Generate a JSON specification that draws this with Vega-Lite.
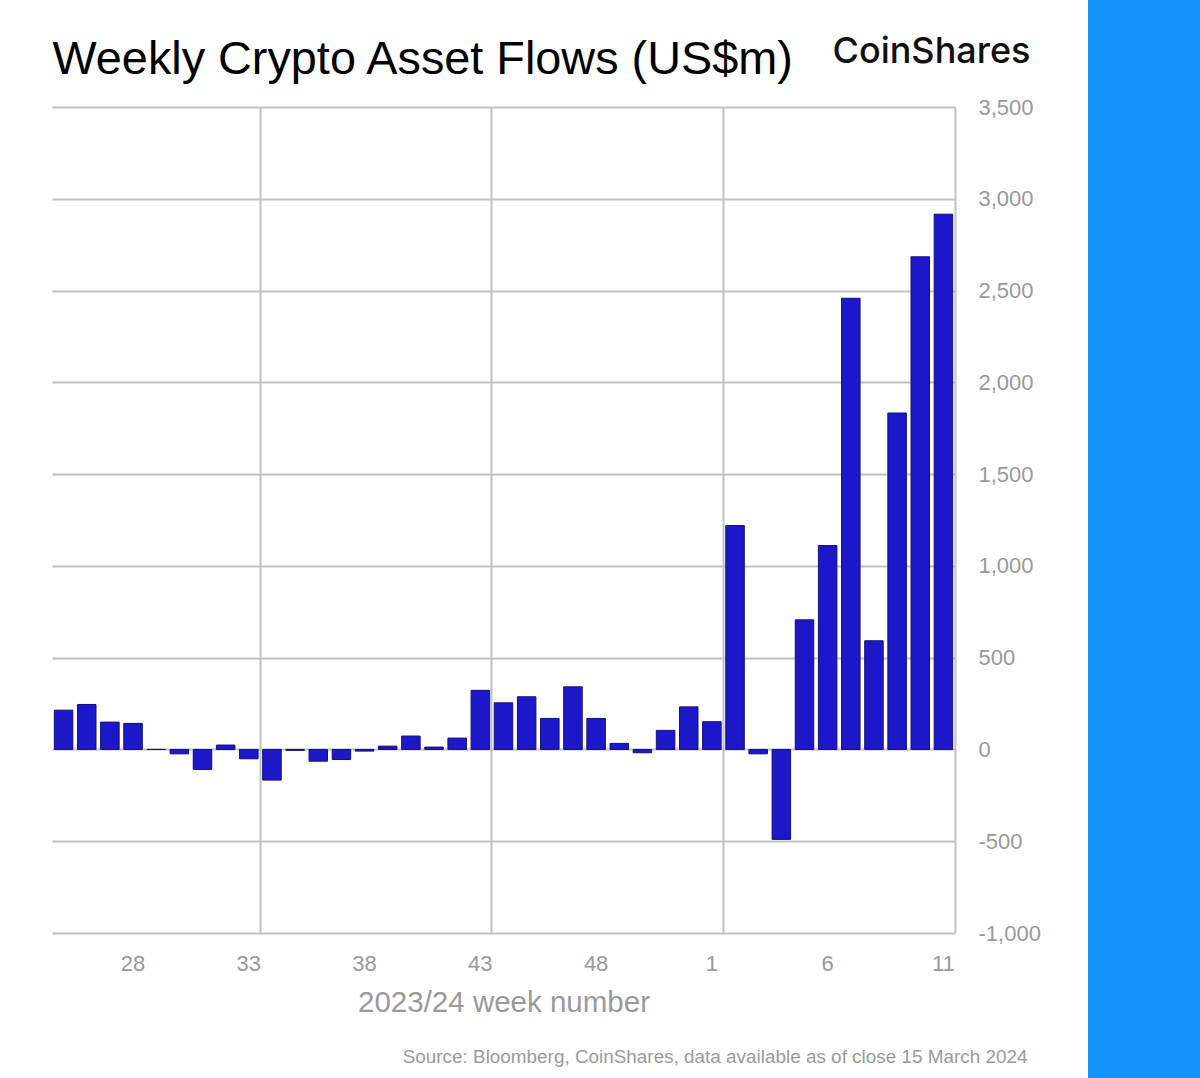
{
  "$schema": "https://vega.github.io/schema/vega-lite/v6.json",
  "background": "white",
  "padding": {"left": 52, "top": 0, "right": 0, "bottom": 0},
  "spacing": 47,
  "config": {
    "view": {"stroke": null},
    "font": "Liberation Sans",
    "locale": {"number": {"decimal": ".", "thousands": ",", "grouping": [3], "currency": ["$", ""], "minus": "-"}},
    "axis": {"labelFont": "Liberation Sans", "titleFont": "Liberation Sans", "minExtent": 0}
  },
  "data": {
    "values": [
      {"week": "25", "flow": 214}, {"week": "26", "flow": 245}, {"week": "27", "flow": 149},
      {"week": "28", "flow": 142}, {"week": "29", "flow": 0}, {"week": "30", "flow": -24},
      {"week": "31", "flow": -109}, {"week": "32", "flow": 24}, {"week": "33", "flow": -51},
      {"week": "34", "flow": -167}, {"week": "35", "flow": -5}, {"week": "36", "flow": -64},
      {"week": "37", "flow": -55}, {"week": "38", "flow": -9}, {"week": "39", "flow": 18},
      {"week": "40", "flow": 73}, {"week": "41", "flow": 13}, {"week": "42", "flow": 62},
      {"week": "43", "flow": 322}, {"week": "44", "flow": 254}, {"week": "45", "flow": 287},
      {"week": "46", "flow": 169}, {"week": "47", "flow": 341}, {"week": "48", "flow": 169},
      {"week": "49", "flow": 33}, {"week": "50", "flow": -18}, {"week": "51", "flow": 104},
      {"week": "52", "flow": 232}, {"week": "1", "flow": 151}, {"week": "2", "flow": 1220},
      {"week": "3", "flow": -24}, {"week": "4", "flow": -490}, {"week": "5", "flow": 706},
      {"week": "6", "flow": 1111}, {"week": "7", "flow": 2458}, {"week": "8", "flow": 592},
      {"week": "9", "flow": 1833}, {"week": "10", "flow": 2684}, {"week": "11", "flow": 2916}
    ]
  },
  "hconcat": [
    {
      "spacing": 0,
      "bounds": "flush",
      "vconcat": [
        {
          "width": 903,
          "height": 107,
          "mark": {"type": "point", "opacity": 0, "size": 0},
          "encoding": {
            "x": {
              "field": "week", "type": "ordinal", "sort": null,
              "axis": {
                "orient": "top",
                "labels": false, "ticks": false, "domain": false, "grid": false,
                "title": "Weekly Crypto Asset Flows (US$m)",
                "titleAngle": 0, "titleAlign": "left", "titleBaseline": "alphabetic",
                "titleX": 0, "titleY": 73,
                "titleFontSize": 46.8, "titleFontWeight": "normal", "titleColor": "#000000"
              }
            },
            "y": {
              "field": "flow", "type": "quantitative",
              "scale": {"domain": [-5000, 5000]},
              "axis": {
                "orient": "left",
                "labels": false, "ticks": false, "domain": false, "grid": false,
                "title": "CoinShares",
                "titleAngle": 0, "titleAlign": "right", "titleBaseline": "alphabetic",
                "titleX": 978, "titleY": 62,
                "titleFont": "Inter", "titleFontSize": 36, "titleFontWeight": 500, "titleColor": "#111111"
              }
            }
          }
        },
        {
          "width": 903,
          "height": 826,
          "resolve": {"axis": {"x": "independent"}},
          "layer": [
            {
              "mark": {"type": "bar", "fill": "#1c17c9", "stroke": "#14107e", "strokeWidth": 1},
              "encoding": {
                "x": {
                  "field": "week", "type": "ordinal", "sort": null,
                  "scale": {"paddingInner": 0.2, "paddingOuter": 0.1},
                  "axis": {
                    "orient": "bottom",
                    "values": ["28", "33", "38", "43", "48", "1", "6", "11"],
                    "labelAngle": 0, "labelFontSize": 22, "labelColor": "#999999", "labelPadding": 20,
                    "ticks": false, "domain": false, "grid": false,
                    "title": "2023/24 week number", "titleFontSize": 29.5, "titleFontWeight": "normal",
                    "titleColor": "#999999", "titlePadding": 14
                  }
                },
                "y": {
                  "field": "flow", "type": "quantitative",
                  "scale": {"domain": [-1000, 3500], "nice": false, "zero": false},
                  "axis": {
                    "orient": "right",
                    "values": [-1000, -500, 0, 500, 1000, 1500, 2000, 2500, 3000, 3500],
                    "format": ",.0f",
                    "labelFontSize": 22, "labelColor": "#999999", "labelPadding": 23, "labelAlign": "left",
                    "ticks": false, "domain": false,
                    "grid": true, "gridColor": "#c2c2c2", "gridWidth": 2,
                    "title": "Source: Bloomberg, CoinShares, data available as of close 15 March 2024",
                    "titleAngle": 0, "titleAlign": "right", "titleBaseline": "alphabetic",
                    "titleX": 72, "titleY": 955,
                    "titleFontSize": 18.9, "titleFontWeight": "normal", "titleColor": "#9a9a9a"
                  }
                }
              }
            },
            {
              "mark": {"type": "bar", "opacity": 0},
              "encoding": {
                "x": {
                  "field": "week", "type": "ordinal", "sort": null,
                  "axis": {
                    "orient": "top",
                    "values": ["33", "43", "1", "11"],
                    "bandPosition": 1.125,
                    "labels": false, "ticks": false, "domain": false,
                    "grid": true, "gridColor": "#c2c2c2", "gridWidth": 2,
                    "title": null
                  }
                },
                "y": {"field": "flow", "type": "quantitative"}
              }
            }
          ]
        }
      ]
    },
    {
      "width": 113,
      "height": 1078,
      "view": {"fill": "#1493fa", "stroke": null},
      "mark": {"type": "point", "opacity": 0, "size": 0},
      "encoding": {}
    }
  ]
}
